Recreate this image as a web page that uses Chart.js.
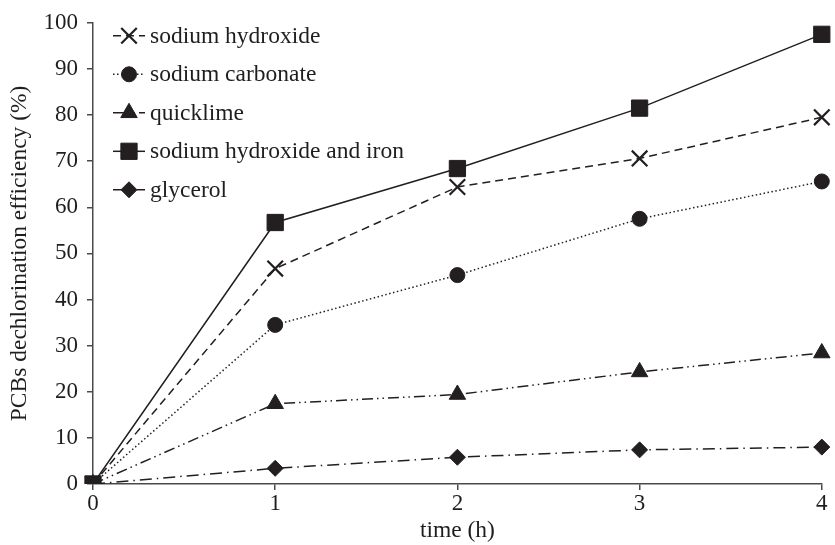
<!DOCTYPE html>
<html>
<head>
<meta charset="utf-8">
<script src="https://cdn.jsdelivr.net/npm/chart.js@4/dist/chart.umd.min.js"></script>
<style>
  html, body { margin: 0; padding: 0; background: #ffffff; }
  #wrap { width: 835px; height: 545px; }
</style>
</head>
<body>
<div id="wrap"><canvas id="c" width="835" height="545"></canvas></div>
<script>
// Reaction time (h) and dechlorination efficiency (%) for each reagent
const times = ['0', '1', '2', '3', '4'];
const sodiumHydroxide = [0, 46.7, 64.4, 70.6, 79.5];
const sodiumCarbonate = [0, 34.5, 45.3, 57.5, 65.6];
const quicklime = [0, 17.4, 19.4, 24.3, 28.4];
const sodiumHydroxideIron = [0, 56.7, 68.4, 81.5, 97.5];
const glycerol = [0, 3.4, 5.8, 7.4, 8.0];
const yTicks = [0, 10, 20, 30, 40, 50, 60, 70, 80, 90, 100];

const INK = '#231f20';
const AXIS = '#4a4a4a';
const FONT = "'Liberation Serif', 'Times New Roman', serif";

function series(label, data, style, radius, dash) {
  return {
    label: label,
    data: data,
    borderColor: INK,
    backgroundColor: INK,
    borderWidth: 1.5,
    borderDash: dash,
    pointStyle: style,
    pointRadius: radius,
    pointBorderWidth: style === 'crossRot' ? 2.2 : 1,
    pointBorderColor: INK,
    pointBackgroundColor: INK,
    tension: 0,
    fill: false
  };
}

const datasets = [
  series('sodium hydroxide', sodiumHydroxide, 'crossRot', 11, [8, 5]),
  series('sodium carbonate', sodiumCarbonate, 'circle', 7.5, [1.5, 2.5]),
  series('quicklime', quicklime, 'triangle', 9.5, [11, 4, 1.5, 4, 1.5, 4]),
  series('sodium hydroxide and iron', sodiumHydroxideIron, 'rect', 11.5, []),
  series('glycerol', glycerol, 'rectRot', 8, [12, 5, 1.5, 5])
];

// Legend drawn as line sample + marker + label, one row per series
const lineLegend = {
  id: 'lineLegend',
  afterDraw(chart) {
    const ctx = chart.ctx;
    const area = chart.chartArea;
    const x0 = area.left + 20;
    const x1 = area.left + 52;
    const xm = area.left + 36;
    const xt = area.left + 57;
    const rowTop = area.top + 13;
    const rowGap = 38.5;
    ctx.save();
    chart.data.datasets.forEach((ds, i) => {
      const y = rowTop + i * rowGap;
      ctx.strokeStyle = ds.borderColor;
      ctx.lineWidth = ds.borderWidth;
      ctx.setLineDash(ds.borderDash);
      ctx.beginPath();
      ctx.moveTo(x0, y);
      ctx.lineTo(x1, y);
      ctx.stroke();
      ctx.setLineDash([]);
      ctx.fillStyle = ds.pointBackgroundColor;
      ctx.strokeStyle = ds.pointBorderColor;
      ctx.lineWidth = ds.pointBorderWidth;
      Chart.helpers.drawPoint(ctx, {
        pointStyle: ds.pointStyle,
        radius: ds.pointRadius,
        rotation: 0,
        borderWidth: ds.pointBorderWidth
      }, xm, y);
      ctx.fillStyle = '#1e1e1e';
      ctx.font = '23.5px ' + FONT;
      ctx.textAlign = 'left';
      ctx.textBaseline = 'middle';
      ctx.fillText(ds.label, xt, y + 1);
    });
    ctx.restore();
  }
};

new Chart(document.getElementById('c'), {
  type: 'line',
  data: { labels: times, datasets: datasets },
  options: {
    responsive: false,
    animation: false,
    layout: { padding: { top: 22, right: 6, left: 0, bottom: 0 } },
    plugins: {
      legend: { display: false },
      tooltip: { enabled: false }
    },
    scales: {
      x: {
        type: 'category',
        offset: false,
        afterFit(scale) { scale.height = 61; },
        border: { display: true, color: AXIS, width: 1.5 },
        grid: { display: true, drawOnChartArea: false, drawTicks: true, tickLength: 6, color: AXIS, lineWidth: 1.5 },
        ticks: { color: '#1e1e1e', padding: 0, font: { family: FONT, size: 23 }, maxRotation: 0 },
        title: { display: true, text: 'time (h)', color: '#1e1e1e', padding: { top: 0, bottom: 0 }, font: { family: FONT, size: 23.5 } }
      },
      y: {
        min: 0,
        max: 100,
        afterFit(scale) { scale.width = 93; },
        afterBuildTicks(scale) { scale.ticks = yTicks.map(v => ({ value: v })); },
        border: { display: true, color: AXIS, width: 1.5 },
        grid: { display: true, drawOnChartArea: false, drawTicks: true, tickLength: 6, color: AXIS, lineWidth: 1.5 },
        ticks: { color: '#1e1e1e', padding: 9, font: { family: FONT, size: 23 } },
        title: { display: true, text: 'PCBs dechlorination efficiency (%)', color: '#1e1e1e', padding: { top: 6, bottom: 0 }, font: { family: FONT, size: 23.5 } }
      }
    }
  },
  plugins: [lineLegend]
});
</script>
</body>
</html>
